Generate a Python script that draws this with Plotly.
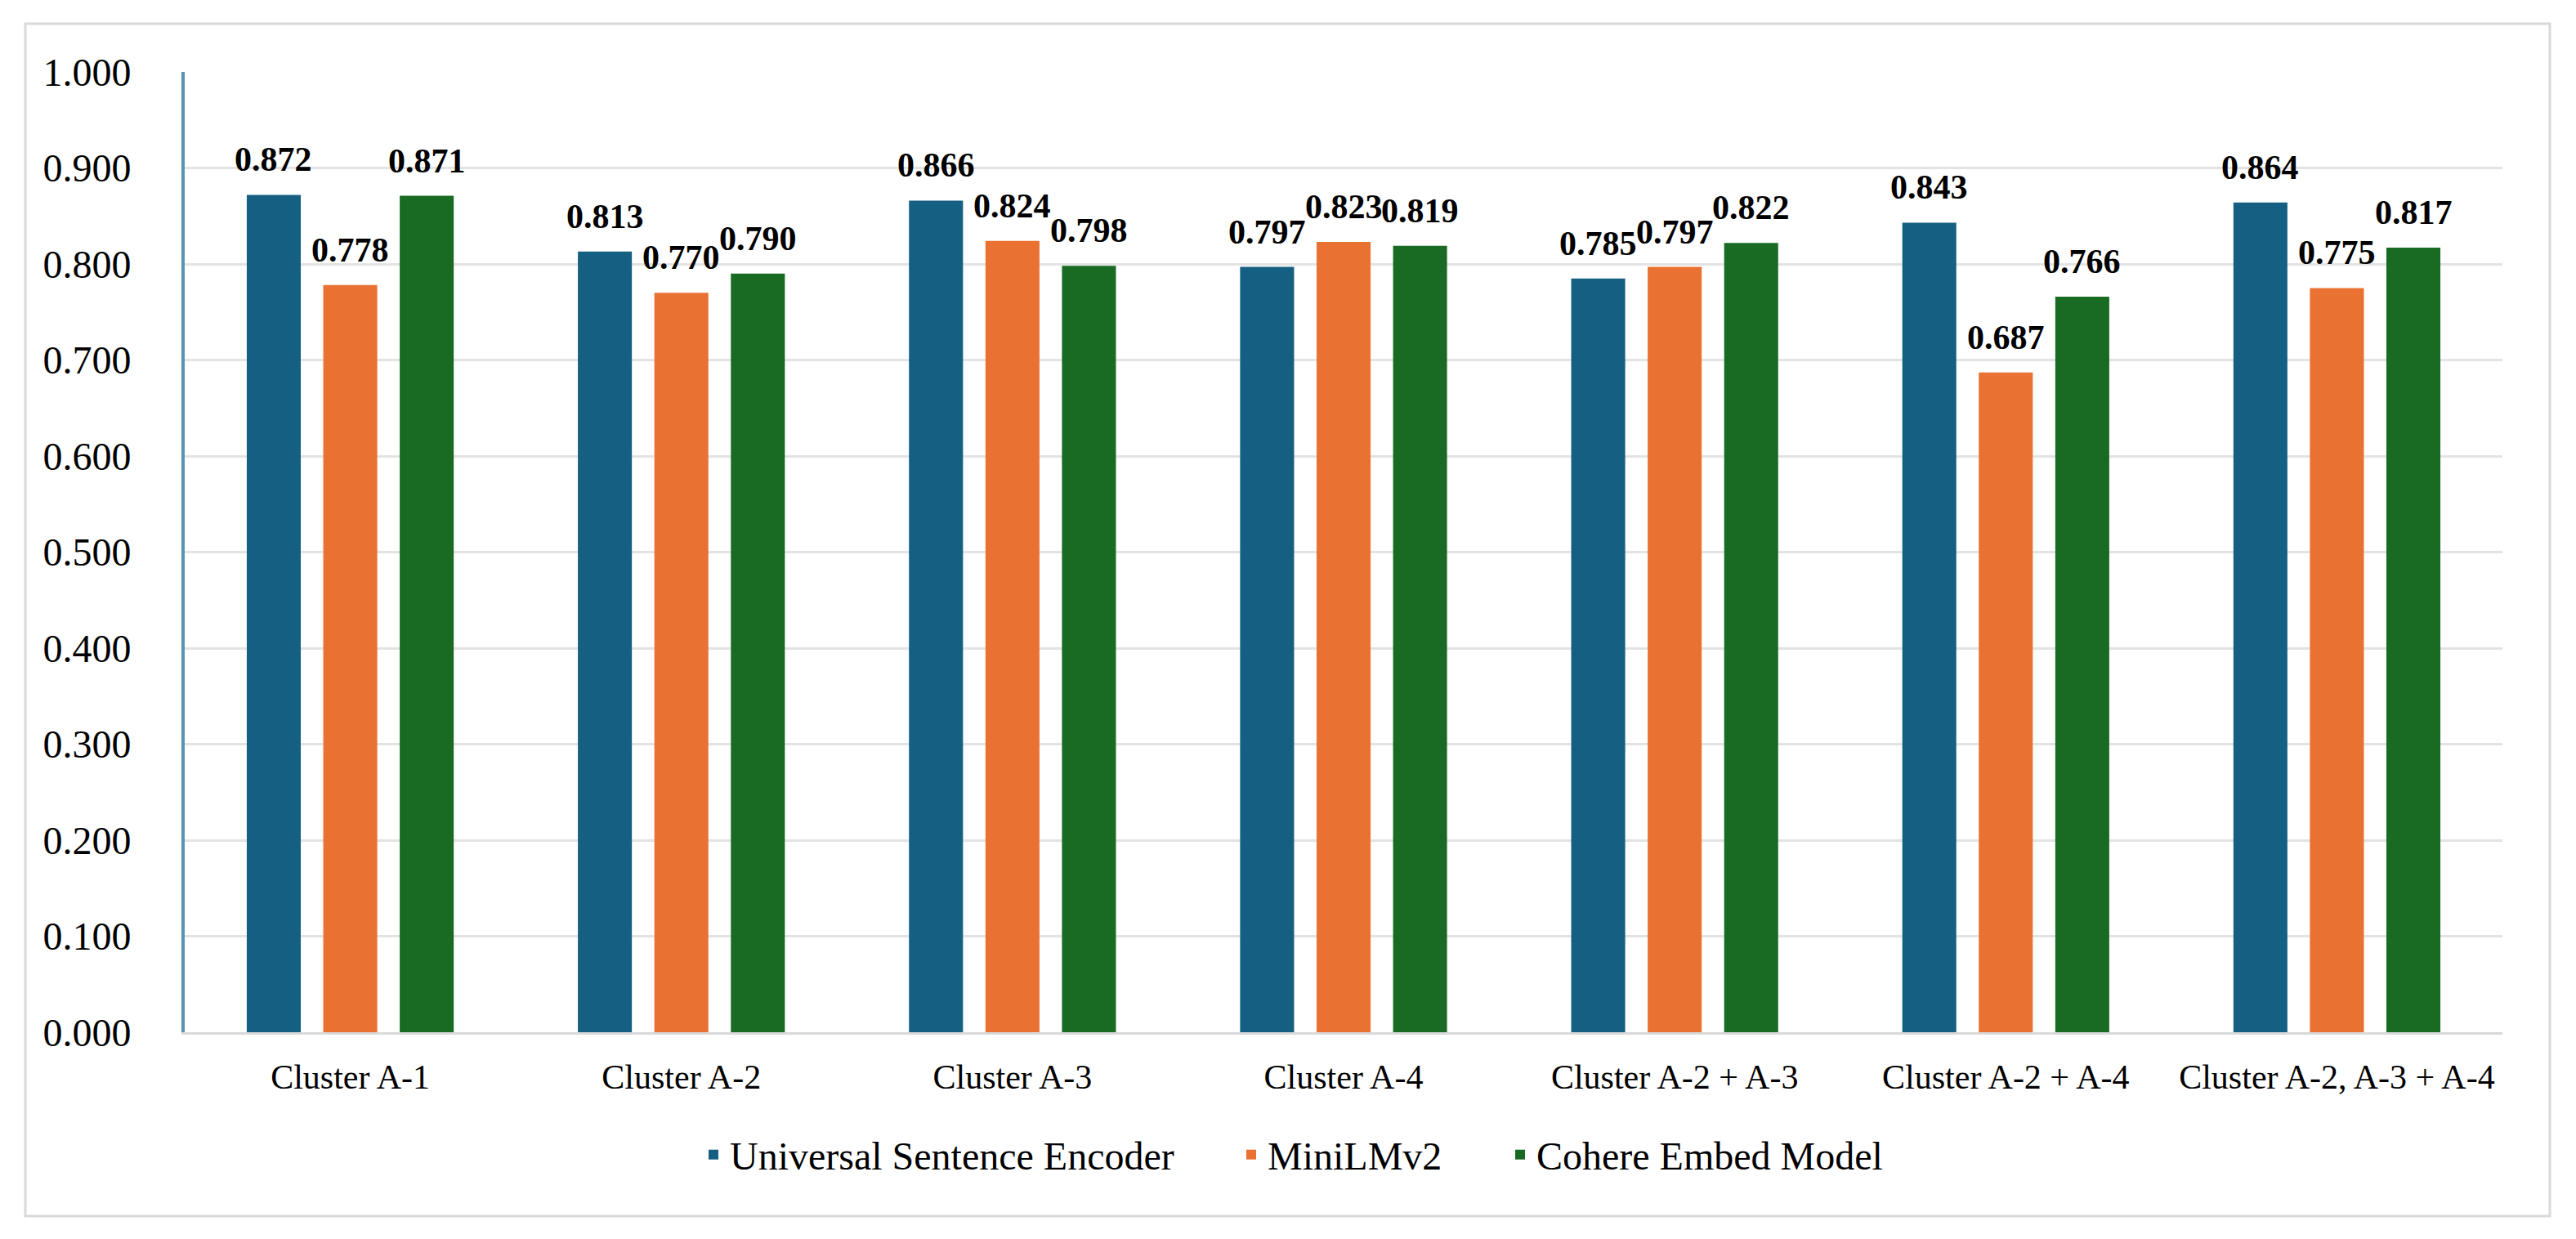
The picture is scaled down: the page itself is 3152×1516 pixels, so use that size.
import plotly.graph_objects as go

categories = ["Cluster A-1", "Cluster A-2", "Cluster A-3", "Cluster A-4",
              "Cluster A-2 + A-3", "Cluster A-2 + A-4", "Cluster A-2, A-3 + A-4"]
series_names = ["Universal Sentence Encoder", "MiniLMv2", "Cohere Embed Model"]
use_values = [0.872, 0.813, 0.866, 0.797, 0.785, 0.843, 0.864]
minilm_values = [0.778, 0.770, 0.824, 0.823, 0.797, 0.687, 0.775]
cohere_values = [0.871, 0.790, 0.798, 0.819, 0.822, 0.766, 0.817]
y_ticks = [0.0, 0.1, 0.2, 0.3, 0.4, 0.5, 0.6, 0.7, 0.8, 0.9, 1.0]

colors = ["#156082", "#E97132", "#196B24"]
FONT = "Liberation Serif, Times New Roman, serif"

W, H = 3152, 1516
ML, MR, MT, MB = 226, 90, 88, 253
BARGAP, BARGROUPGAP = 0.307, 0.294
plot_w = W - ML - MR
plot_h = H - MT - MB

# legend entry positions (pixel x of each symbol centre), legend row y
legend_sym_px = [873, 1531, 1860]
legend_y_px = 1413
legend_ids = ["legend", "legend2", "legend3"]

fig = go.Figure()
all_values = [use_values, minilm_values, cohere_values]
for name, vals, col, lid in zip(series_names, all_values, colors, legend_ids):
    fig.add_trace(go.Bar(
        name=name, x=categories, y=vals, legend=lid,
        marker=dict(color=col, line=dict(width=0)),
    ))

# data labels above each bar
cat_px = plot_w / len(categories)
slot_px = (1 - BARGAP) * cat_px / len(series_names)
annotations = []
for i, vals in enumerate(all_values):
    for c, v in zip(categories, vals):
        annotations.append(dict(
            x=c, y=v, xref="x", yref="y", text="<b>%.3f</b>" % v,
            showarrow=False, yanchor="bottom", xanchor="center",
            xshift=(i - 1) * slot_px, yshift=18,
            font=dict(family=FONT, size=42, color="#000000"),
        ))

# outer border in paper coordinates
bx0, bx1, by0, by1 = 31, 3120, 29, 1488
shapes = [dict(
    type="rect", xref="paper", yref="paper", layer="below",
    x0=(bx0 - ML) / plot_w, x1=(bx1 - ML) / plot_w,
    y0=(H - MB - by1) / plot_h, y1=(H - MB - by0) / plot_h,
    line=dict(color="#D9D9D9", width=3), fillcolor="rgba(0,0,0,0)",
)]

legend_common = dict(
    orientation="h", xanchor="left",
    y=(H - MB - legend_y_px) / plot_h, yanchor="middle",
    font=dict(family=FONT, size=48, color="#000000"),
    bgcolor="rgba(0,0,0,0)", borderwidth=0,
)
legends = {}
for lid, sx in zip(legend_ids, legend_sym_px):
    legends[lid] = dict(legend_common, x=(sx - 20 - ML) / plot_w)

fig.update_layout(
    width=W, height=H,
    margin=dict(l=ML, r=MR, t=MT, b=MB, pad=0),
    paper_bgcolor="white", plot_bgcolor="white",
    barmode="group", bargap=BARGAP, bargroupgap=BARGROUPGAP,
    font=dict(family=FONT, color="#000000"),
    annotations=annotations, shapes=shapes,
    showlegend=True,
    **legends,
    xaxis=dict(
        type="category", showgrid=False, showline=True,
        linecolor="#D9D9D9", linewidth=3, ticks="",
        tickfont=dict(family=FONT, size=42, color="#000000"),
        ticklabelstandoff=16,
    ),
    yaxis=dict(
        range=[0, 1.0], tickvals=y_ticks, tickformat=".3f",
        showgrid=True, gridcolor="#E3E3E3", gridwidth=3,
        zeroline=False, showline=True, linecolor="#5A93B3", linewidth=4,
        ticks="", tickfont=dict(family=FONT, size=48, color="#000000"),
        ticklabelstandoff=52,
    ),
)

fig.write_html("out.html", config={"displayModeBar": False},
               post_script="document.body.style.margin='0';document.body.style.overflow='hidden';")
